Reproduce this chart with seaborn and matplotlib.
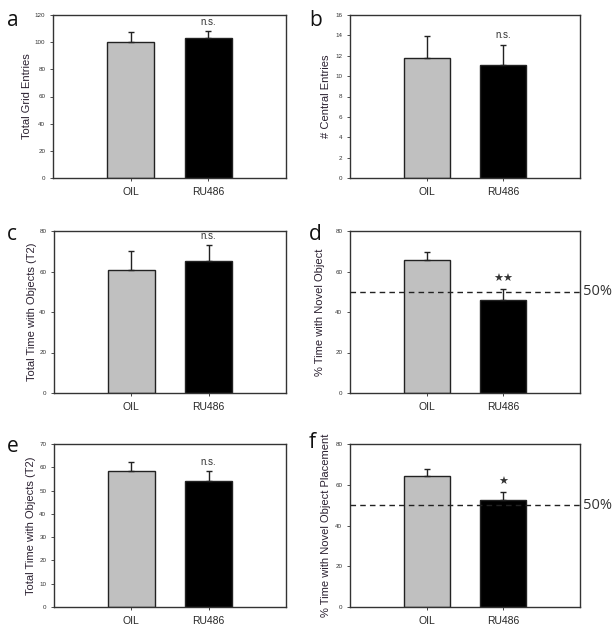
import matplotlib
matplotlib.use("Agg")
import matplotlib.pyplot as plt
import seaborn as sns
import pandas as pd
import numpy as np

sns.set_style("white")
plt.rcParams['font.family'] = ['Liberation Sans', 'DejaVu Sans']

groups = ["OIL", "RU486"]
colors = ["#c0c0c0", "#000000"]

panel_letters = ["a", "b", "c", "d", "e", "f"]
ylabels = ["Total Grid Entries", "# Central Entries", "Total Time with Objects (T2)",
           "% Time with Novel Object", "Total Time with Objects (T2)",
           "% Time with Novel Object Placement"]
means_a = [100.0, 102.9]
sems_a = [7.5, 5.6]
means_b = [11.75, 11.1]
sems_b = [2.2, 2.0]
means_c = [60.6, 65.2]
sems_c = [9.4, 7.7]
means_d = [65.7, 45.9]
sems_d = [4.0, 5.6]
means_e = [58.2, 53.9]
sems_e = [4.2, 4.3]
means_f = [64.4, 52.6]
sems_f = [3.3, 3.9]
ymax = [120, 16, 80, 80, 70, 80]
ystep = [20, 2, 20, 20, 10, 20]
annotations = ["n.s.", "n.s.", "n.s.", "**", "n.s.", "*"]
ref_lines = [None, None, None, 50, None, 50]

means = [means_a, means_b, means_c, means_d, means_e, means_f]
sems = [sems_a, sems_b, sems_c, sems_d, sems_e, sems_f]

W, H = 616, 631
fig = plt.figure(figsize=(W / 100, H / 100), dpi=100)

# pixel boxes: left, right, top, bottom
boxes = [(53, 286, 15, 178), (350, 580, 15, 178),
         (54, 286, 231, 393), (350, 580, 231, 393),
         (54, 286, 444, 607), (350, 580, 444, 607)]
letter_pos = [(7, 26), (309, 26), (7, 240), (309, 240), (7, 452), (309, 448)]
label_x = [32, 331, 37, 325, 36, 331]

for i in range(6):
    l, r, t, b = boxes[i]
    ax = fig.add_axes([l / W, 1 - b / H, (r - l) / W, (b - t) / H])
    df = pd.DataFrame({"group": groups, "value": means[i]})
    sns.barplot(data=df, x="group", y="value", hue="group", palette=colors,
                edgecolor="#222222", linewidth=1.0, width=0.6, ax=ax, legend=False)
    ax.errorbar([0, 1], means[i], yerr=[[0, 0], sems[i]], fmt="none",
                ecolor="#222222", elinewidth=1.0, capsize=2.5, capthick=1.0)
    ax.set_xlim(-1, 2)
    ax.set_ylim(0, ymax[i])
    ax.set_yticks(np.arange(0, ymax[i] + 0.01, ystep[i]))
    ax.tick_params(axis="y", labelsize=4.5, length=2.5, width=0.6, direction="out",
                   left=True, pad=3, colors="#333333")
    ax.tick_params(axis="x", labelsize=7.5, length=2.5, width=0.6, direction="out",
                   bottom=True, pad=4)
    ax.set_xlabel("")
    ax.set_ylabel(ylabels[i], fontsize=8, color="#2a2030")
    ax.yaxis.set_label_coords((label_x[i] - l) / (r - l), 0.5)
    for sp in ax.spines.values():
        sp.set_color("#333333")
        sp.set_linewidth(1.0)
    if ref_lines[i] is not None:
        ax.axhline(ref_lines[i], color="#222222", linestyle=(0, (4, 3)), linewidth=1.0, zorder=5)
        ax.text(1.015, ref_lines[i], "50%", transform=ax.get_yaxis_transform(),
                ha="left", va="center", fontsize=10.5, color="#333333",
                family=["Open Sans", "DejaVu Sans"])
    top = means[i][1] + sems[i][1]
    ann = annotations[i]
    if ann == "n.s.":
        ax.text(1, top + ymax[i] * 0.025, ann, ha="center", va="bottom", fontsize=7, color="#333333")
    else:
        ax.text(1, top + ymax[i] * 0.03, ann.replace("*", "\u2605"), ha="center", va="bottom",
                fontsize=8, color="#333333", family=["DejaVu Sans"])
    fig.text(letter_pos[i][0] / W, 1 - letter_pos[i][1] / H, panel_letters[i],
             fontsize=15, ha="left", va="baseline", color="#111111",
             family=["Open Sans", "DejaVu Sans"])

fig.savefig("out.png", dpi=100, facecolor="white")
